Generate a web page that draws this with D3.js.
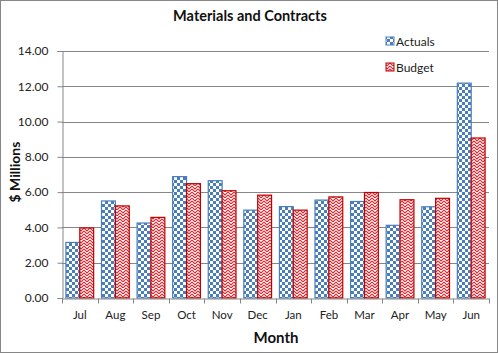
<!DOCTYPE html>
<html><head><meta charset="utf-8">
<script src="https://cdn.jsdelivr.net/npm/d3@7/dist/d3.min.js"></script>
<style>body{margin:0;background:#fff}svg{display:block;font-family:Lato,"Open Sans",sans-serif}</style>
</head><body><svg id="c" width="498" height="353"></svg>
<script>
const months = ["Jul","Aug","Sep","Oct","Nov","Dec","Jan","Feb","Mar","Apr","May","Jun"];
const actuals = [3.15,5.5,4.25,6.88,6.65,4.98,5.18,5.55,5.47,4.12,5.17,12.18];
const budget = [3.97,5.22,4.57,6.48,6.08,5.83,4.98,5.73,5.98,5.57,5.65,9.07];
const seriesNames = ["Actuals","Budget"];
const yTicks = [0,2,4,6,8,10,12,14];

const svg = d3.select("#c");
const defs = svg.append("defs");
const pc = defs.append("pattern").attr("id","chk").attr("patternUnits","userSpaceOnUse").attr("width",6).attr("height",6);
pc.append("rect").attr("width",6).attr("height",6).attr("fill","#fff");
pc.append("rect").attr("width",3).attr("height",3).attr("fill","#4a7ebb");
pc.append("rect").attr("x",3).attr("y",3).attr("width",3).attr("height",3).attr("fill","#4a7ebb");
const pz = defs.append("pattern").attr("id","zig").attr("patternUnits","userSpaceOnUse").attr("width",6).attr("height",6);
pz.append("rect").attr("width",6).attr("height",6).attr("fill","#fff");
pz.append("path").attr("d","M0,0 L3,3 L6,0 M0,3 L3,6 L6,3 M-1,5 L0,6 M6,6 L7,5").attr("stroke","#d9282f").attr("stroke-width",1.1).attr("fill","none");

svg.append("rect").attr("x",0.5).attr("y",0.5).attr("width",497).attr("height",352).attr("fill","#fff").attr("stroke","#868686");

const m = {l:62,r:489,t:51,b:298};
const x = d3.scaleBand().domain(months).range([m.l,m.r]);
const y = d3.scaleLinear().domain([0,14]).range([m.b,m.t]);

svg.append("g").selectAll("line").data(yTicks.slice(1)).join("line")
  .attr("x1",m.l).attr("x2",m.r).attr("y1",d=>Math.round(y(d))+0.5).attr("y2",d=>Math.round(y(d))+0.5)
  .attr("stroke","#868686").attr("stroke-width",1);

const bw = x.bandwidth()*0.39;
const data = months.map((mo,i)=>({mo,a:actuals[i],b:budget[i]}));
const g = svg.append("g");
g.selectAll("rect.a").data(data).join("rect").attr("class","a")
  .attr("x",d=>x(d.mo)+x.bandwidth()/2-bw).attr("width",bw)
  .attr("y",d=>y(d.a)).attr("height",d=>y(0)-y(d.a))
  .attr("fill","url(#chk)").attr("stroke","#4a7ebb").attr("stroke-width",1.2);
g.selectAll("rect.b").data(data).join("rect").attr("class","b")
  .attr("x",d=>x(d.mo)+x.bandwidth()/2).attr("width",bw)
  .attr("y",d=>y(d.b)).attr("height",d=>y(0)-y(d.b))
  .attr("fill","url(#zig)").attr("stroke","#c00000").attr("stroke-width",1.2);

const ya = svg.append("g").attr("transform",`translate(${m.l+0.5},0)`)
  .call(d3.axisLeft(y).tickValues(yTicks).tickFormat(d3.format(".2f")).tickSize(5).tickPadding(9));
ya.select(".domain").attr("stroke","#868686");
ya.selectAll(".tick line").attr("stroke","#868686");
ya.selectAll("text").attr("font-size",12).attr("fill","#222").attr("font-family","Lato,sans-serif");

const xa = svg.append("g").attr("transform",`translate(0,${m.b+0.5})`)
  .call(d3.axisBottom(x).tickSize(0).tickPadding(12));
xa.select(".domain").attr("stroke","#868686");
xa.selectAll("text").attr("font-size",11.5).attr("fill","#222").attr("font-family","Lato,sans-serif");
xa.selectAll("line.sep").data(months.concat(["end"])).join("line").attr("class","sep")
  .attr("x1",(d,i)=>Math.round(m.l+i*x.bandwidth())+0.5).attr("x2",(d,i)=>Math.round(m.l+i*x.bandwidth())+0.5)
  .attr("y1",0).attr("y2",5).attr("stroke","#868686");

svg.append("text").attr("x",250).attr("y",21).attr("text-anchor","middle").attr("font-weight","bold").attr("font-size",14.5).attr("fill","#111").text("Materials and Contracts");
svg.append("text").attr("x",276).attr("y",343).attr("text-anchor","middle").attr("font-weight","bold").attr("font-size",15).attr("fill","#111").text("Month");
svg.append("text").attr("transform","translate(20,172) rotate(-90)").attr("text-anchor","middle").attr("font-weight","bold").attr("font-size",14).attr("fill","#111").text("$ Millions");

const lg = svg.append("g");
const fills = ["url(#chk)","url(#zig)"], strokes=["#4a7ebb","#c00000"];
seriesNames.forEach((s,i)=>{
  const yy = 41 + i*26;
  lg.append("rect").attr("x",386).attr("y",yy-4).attr("width",8).attr("height",8).attr("fill",fills[i]).attr("stroke",strokes[i]).attr("stroke-width",1);
  lg.append("text").attr("x",396).attr("y",yy+4.5).attr("font-size",12).attr("fill","#222").text(s);
});
</script></body></html>
